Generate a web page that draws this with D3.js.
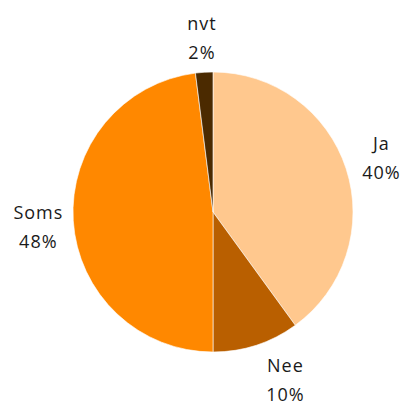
<!DOCTYPE html>
<html>
<head>
<meta charset="utf-8">
<script src="https://cdn.jsdelivr.net/npm/d3@7"></script>
<style>
  body { margin: 0; background: #fff; }
  text { font-family: "Open Sans", "DejaVu Sans", sans-serif; font-size: 18px; fill: #1a1a1a; letter-spacing: 1px; }
</style>
</head>
<body>
<div id="vis"></div>
<script>
// answers and their shares (percent)
var categories = ["Ja", "Nee", "Soms", "nvt"];
var values = [40, 10, 48, 2];
var colours = ["#FFC88E", "#B95F00", "#FF8800", "#4B2A00"];

var width = 400, height = 405;
var cx = 213, cy = 212, radius = 140;

// small hand nudges so labels sit where the original put them
var nudge = {"Ja": [1, -4], "Nee": [18, -4], "Soms": [1, 0], "nvt": [0, -3]};

var svg = d3.select("#vis").append("svg")
    .attr("width", width)
    .attr("height", height);

var g = svg.append("g").attr("transform", "translate(" + cx + "," + cy + ")");

var pie = d3.pie().sort(null).value(function(d){ return d.value; });
var arc = d3.arc().innerRadius(0).outerRadius(radius);
var labelArc = d3.arc().innerRadius(176).outerRadius(176);

var data = categories.map(function(c, i){ return {name: c, value: values[i], colour: colours[i]}; });
var arcs = pie(data);

g.selectAll(".slice").data(arcs).enter()
    .append("path")
    .attr("class", "slice")
    .attr("d", arc)
    .attr("fill", function(d){ return d.data.colour; })
    .attr("stroke", "#fff")
    .attr("stroke-width", 0.6);

var labels = g.selectAll(".lbl").data(arcs).enter()
    .append("text")
    .attr("class", "lbl")
    .attr("text-anchor", "middle")
    .attr("transform", function(d){
        var c = labelArc.centroid(d);
        var n = nudge[d.data.name];
        return "translate(" + (c[0] + n[0]) + "," + (c[1] + n[1]) + ")";
    });

labels.append("tspan").attr("x", 0).attr("dy", "-0.2em").text(function(d){ return d.data.name; });
labels.append("tspan").attr("x", 0).attr("dy", 29).text(function(d){ return d.data.value + "%"; });
</script>
</body>
</html>
